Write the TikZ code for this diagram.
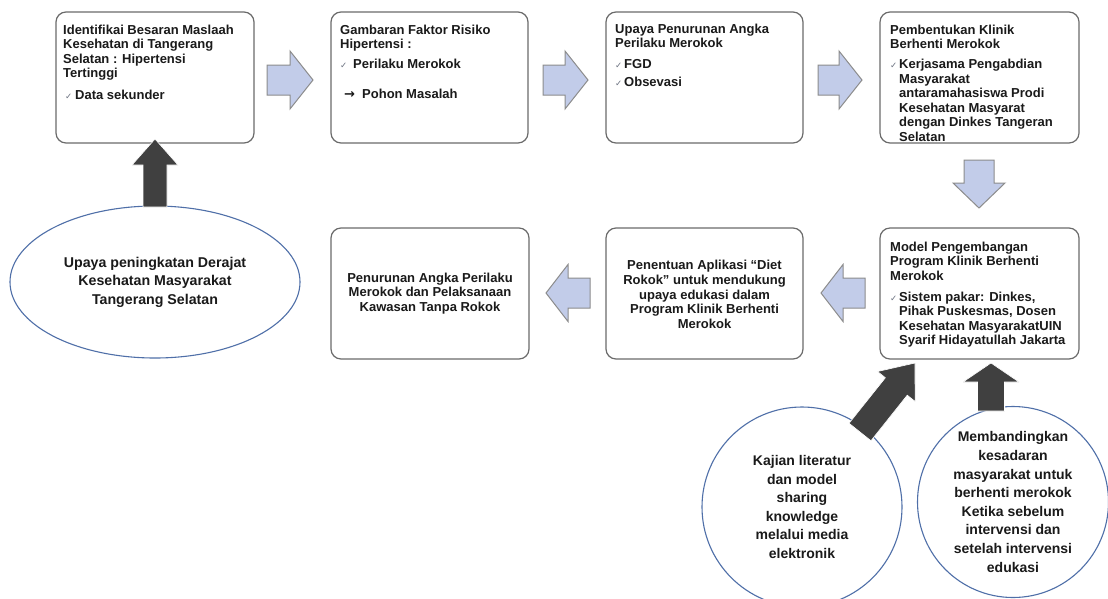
\documentclass[tikz,border=0pt]{standalone}
\usepackage{fontspec}
\setmainfont{Liberation Sans}
\newfontfamily\symfont{DejaVu Sans}
\usetikzlibrary{calc,shapes.geometric}

\definecolor{boxline}{HTML}{6B6B6B}
\definecolor{inkcol}{HTML}{1A1A1A}
\definecolor{checkcol}{HTML}{6B7280}
\definecolor{flowfill}{HTML}{C2CCE9}
\definecolor{flowline}{HTML}{8C8C8C}
\definecolor{pushfill}{HTML}{404040}
\definecolor{ringline}{HTML}{4F6FA8}

% small tick used as a list bullet
\newcommand\chk{{\symfont\mdseries\fontsize{8.5}{8.5}\selectfont\color{checkcol}✓}}
% block arrow: style, tail, tip, half shaft width, half head width, head length
\newcommand\blkarrow[6]{%
  \coordinate (ah) at ($(#3)!#6!(#2)$);
  \path[#1] ($(#2)!#4!90:(#3)$) -- ($(ah)!#4!90:(#3)$) -- ($(ah)!#5!90:(#3)$)
    -- (#3) -- ($(ah)!#5!-90:(#3)$) -- ($(ah)!#4!-90:(#3)$)
    -- ($(#2)!#4!-90:(#3)$) -- cycle;}

\begin{document}
\begin{tikzpicture}[x=1pt,y=-1pt,
  stepbox/.style={draw=boxline, line width=1.2pt, rounded corners=10pt,
    minimum height=131pt, inner sep=0pt},
  btext/.style={text=inkcol, font=\bfseries\fontsize{13}{14.5}\selectfont,
    align=left, inner sep=0pt, anchor=north west},
  ctext/.style={text=inkcol, font=\bfseries\fontsize{13}{14.8}\selectfont,
    align=center, inner sep=0pt},
  ring/.style={draw=ringline, line width=1.1pt, fill=white, inner sep=0pt,
    text=inkcol, align=center, font=\bfseries\fontsize{14}{18.6}\selectfont},
  flow/.style={fill=flowfill, draw=flowline, line width=1pt, line join=miter},
  push/.style={fill=pushfill, draw=white, line width=0.6pt, line join=miter}]

\clip (0,0) rectangle (1108,598);
\fill[white] (0,0) rectangle (1108,598);

% ---- top row ----
\node[stepbox, minimum width=198pt] (b1) at (155,77.5) {};
\node[stepbox, minimum width=197pt] (b2) at (429.5,77.5) {};
\node[stepbox, minimum width=197pt] (b3) at (704.5,77.5) {};
\node[stepbox, minimum width=199pt] (b4) at (979.5,77.5) {};

% text blocks hang from the top of the first line (first baseline minus 9.5pt)
\node[btext] (t1) at (63,24.5) {Identifikai Besaran Maslaah\\Kesehatan di Tangerang\\Selatan : Hipertensi\\Tertinggi\\[7.5pt]\hspace*{2pt}\makebox[10pt][l]{\chk}Data sekunder};
\node[btext] (t2) at (340,24.5) {Gambaran Faktor Risiko\\Hipertensi :\\[5.5pt]\makebox[13pt][l]{\chk}Perilaku Merokok\\[15.5pt]\hspace*{4pt}\makebox[18pt][l]{\symfont\bfseries →}Pohon Masalah};
\node[btext] (t3) at (615,23.5) {Upaya Penurunan Angka\\Perilaku Merokok\\[6.5pt]\makebox[9pt][l]{\chk}FGD\\[3.5pt]\makebox[9pt][l]{\chk}Obsevasi};
\node[btext] (t4) at (890,24.5) {Pembentukan Klinik\\Berhenti Merokok\\[5.5pt]\makebox[9pt][l]{\chk}Kerjasama Pengabdian\\\hspace*{9pt}Masyarakat\\\hspace*{9pt}antaramahasiswa Prodi\\\hspace*{9pt}Kesehatan Masyarat\\\hspace*{9pt}dengan Dinkes Tangeran\\\hspace*{9pt}Selatan};

% ---- second row ----
\node[stepbox, minimum width=198pt] (b6) at (430,293.5) {};
\node[stepbox, minimum width=197pt] (b7) at (704.5,293.5) {};
\node[stepbox, minimum width=199pt] (b8) at (979.5,293.5) {};

\node[ctext] (t6) at (b6) {Penurunan Angka Perilaku\\Merokok dan Pelaksanaan\\Kawasan Tanpa Rokok};
\node[ctext] (t7) at ($(b7)+(0,1)$) {Penentuan Aplikasi “Diet\\Rokok” untuk mendukung\\upaya edukasi dalam\\Program Klinik Berhenti\\Merokok};
\node[btext] (t8) at (890,241.5) {Model Pengembangan\\Program Klinik Berhenti\\Merokok\\[6.5pt]\makebox[9pt][l]{\chk}Sistem pakar: Dinkes,\\\hspace*{9pt}Pihak Puskesmas, Dosen\\\hspace*{9pt}Kesehatan MasyarakatUIN\\\hspace*{9pt}Syarif Hidayatullah Jakarta};

% ---- goal and supporting activities ----
\node[ring, ellipse, minimum width=290pt, minimum height=152pt,
  font=\bfseries\fontsize{14.2}{18.5}\selectfont] (goal) at (155,282)
  {Upaya peningkatan Derajat\\Kesehatan Masyarakat\\Tangerang Selatan};
\node[ring, circle, minimum size=200pt] (c1) at (802,507)
  {Kajian literatur\\dan model\\sharing\\knowledge\\melalui media\\elektronik};
\node[ring, circle, minimum size=191pt] (c2) at (1013,502)
  {Membandingkan\\kesadaran\\masyarakat untuk\\berhenti merokok\\Ketika sebelum\\intervensi dan\\setelah intervensi\\edukasi};

% ---- flow arrows between the steps ----
\coordinate (f1a) at (267,80);  \coordinate (f1b) at (313,80);
\coordinate (f2a) at (543,80);  \coordinate (f2b) at (588,80);
\coordinate (f3a) at (818,80);  \coordinate (f3b) at (862,80);
\coordinate (f4a) at (979,160); \coordinate (f4b) at (979,208);
\coordinate (f5a) at (865,293); \coordinate (f5b) at (821,293);
\coordinate (f6a) at (590,293); \coordinate (f6b) at (546,293);
\blkarrow{flow}{f1a}{f1b}{15pt}{29pt}{23pt}
\blkarrow{flow}{f2a}{f2b}{15pt}{29pt}{23pt}
\blkarrow{flow}{f3a}{f3b}{15pt}{29pt}{23pt}
\blkarrow{flow}{f4a}{f4b}{15pt}{26pt}{25pt}
\blkarrow{flow}{f5a}{f5b}{15pt}{28.5pt}{22pt}
\blkarrow{flow}{f6a}{f6b}{15pt}{28.5pt}{22pt}

% ---- inputs pushing into the steps ----
\coordinate (p1a) at (155,207); \coordinate (p1b) at (155,139);
\coordinate (p2a) at (860,432); \coordinate (p2b) at (915,363);
\coordinate (p3a) at (991,411); \coordinate (p3b) at (991,363);
\blkarrow{push}{p1a}{p1b}{12pt}{23pt}{26pt}
\blkarrow{push}{p2a}{p2b}{14pt}{24pt}{30pt}
\blkarrow{push}{p3a}{p3b}{13.5pt}{28pt}{19pt}
\end{tikzpicture}
\end{document}
